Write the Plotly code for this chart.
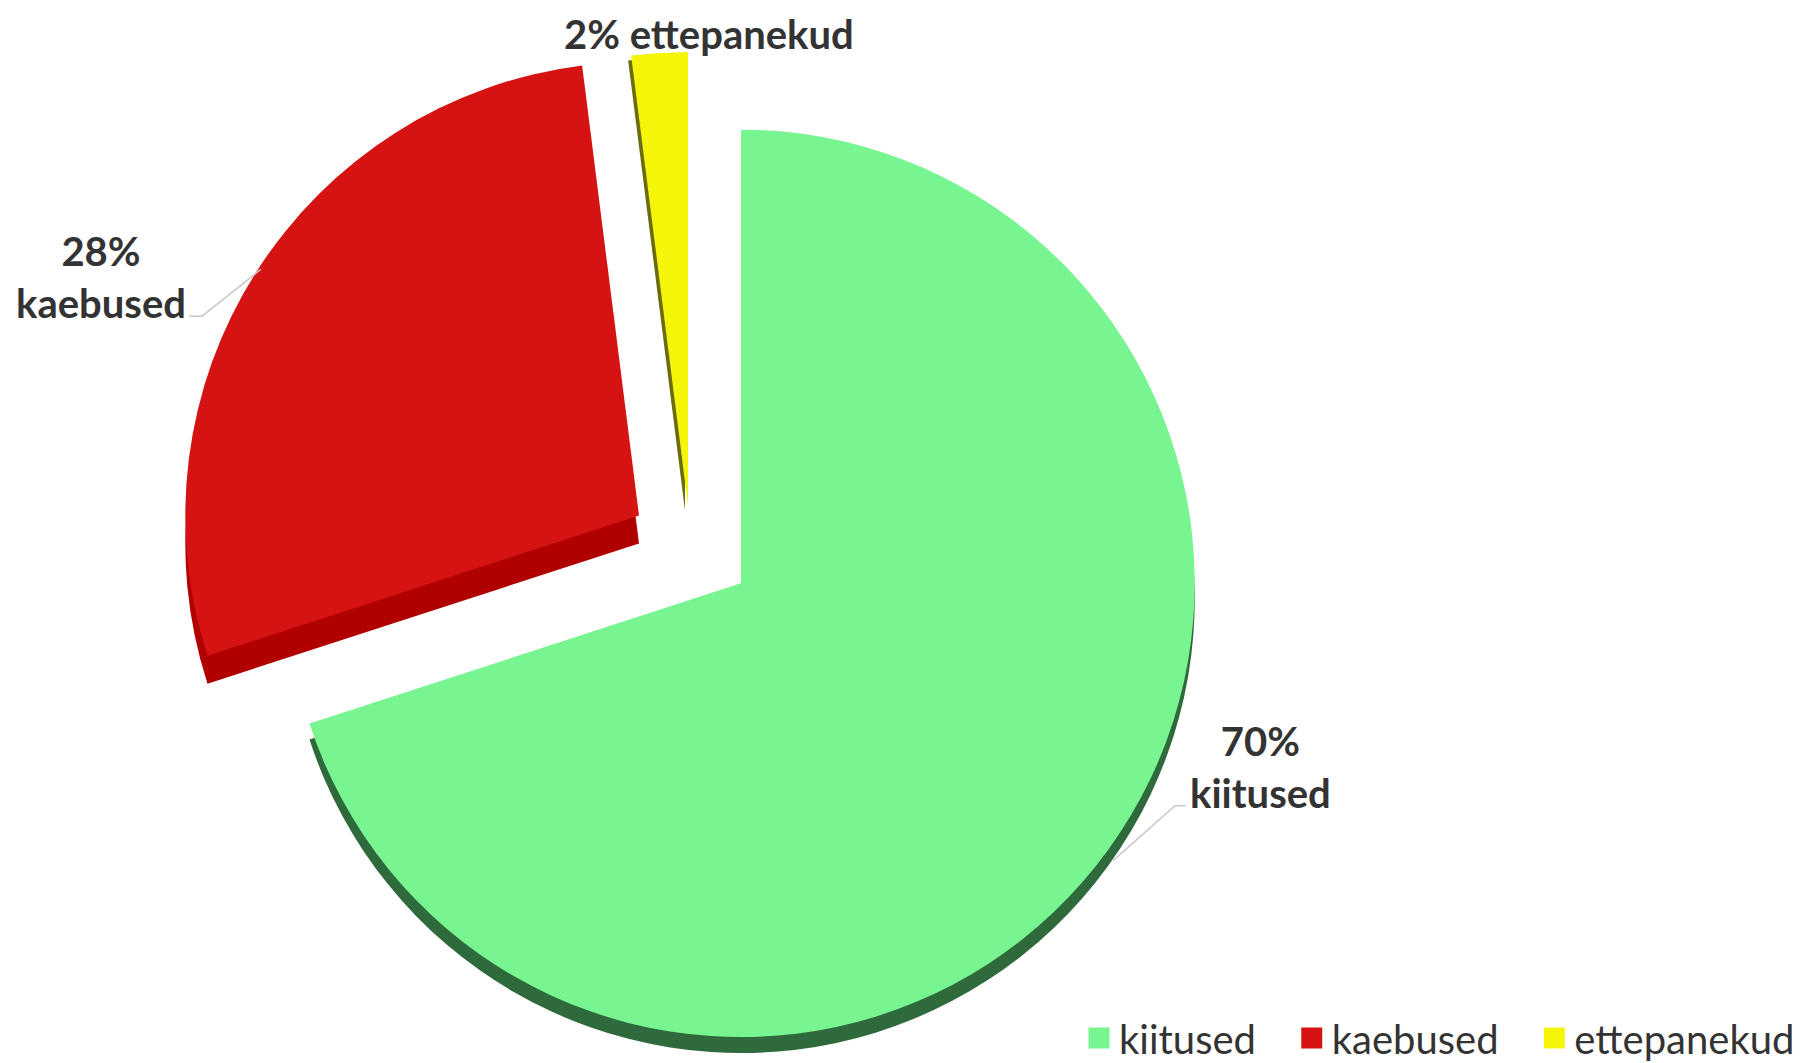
import plotly.graph_objects as go

# ---- data ----
labels = ["kiitused", "kaebused", "ettepanekud"]
values = [70, 28, 2]
colors = ["#78F490", "#D51313", "#F5F50A"]
rim_colors = ["#2E6A3B", "#B00000", "#6B6B10"]

W, H = 1816, 1063
OFF = 8  # page body margin
R = 455
FONT = "Lato, 'Open Sans', sans-serif"
TXT = "#333333"

# per-slice placement (exploded 3D-like look): centre of each slice's pie, rim offset
centres = [(741, 585), (639, 517), (688, 507)]
rim_offsets = [(0, 16), (0, 28), (-3, 5)]

CLEAR = "rgba(0,0,0,0)"
PAD = "\u00a0" * 3


def fx(px):
    return (px - OFF) / W


def fy(py):
    return 1 - (py - OFF) / H


def dom(cx, cy, r):
    return dict(x=[fx(cx - r), fx(cx + r)], y=[fy(cy + r), fy(cy - r)])


def only(i, col):
    return [col if j == i else CLEAR for j in range(len(labels))]


fig = go.Figure()

common = dict(labels=labels, values=values, sort=False, direction="clockwise",
              rotation=0, textinfo="none", showlegend=False, hoverinfo="label+percent")

# rims (drawn first, beneath)
for i in range(len(labels)):
    cx, cy = centres[i]
    dx, dy = rim_offsets[i]
    fig.add_trace(go.Pie(**common, domain=dom(cx + dx, cy + dy, R),
                         marker=dict(colors=only(i, rim_colors[i]), line=dict(width=0))))
# tops
for i in range(len(labels)):
    cx, cy = centres[i]
    fig.add_trace(go.Pie(**common, domain=dom(cx, cy, R),
                         marker=dict(colors=only(i, colors[i]), line=dict(width=0))))

# legend entries
for k, (lab, col) in enumerate(zip(labels, colors)):
    name = lab + (PAD if k < len(labels) - 1 else "")
    fig.add_trace(go.Scatter(x=[None], y=[None], mode="markers", name=name,
                             marker=dict(symbol="square", size=16, color=col,
                                         line=dict(color=col, width=5)),
                             showlegend=True, hoverinfo="skip"))

total = sum(values)
pcts = [round(v / total * 100) for v in values]

annotations = []
# two-line labels
for i, (x, y) in [(0, (1260, 769)), (1, (101, 278))]:
    annotations.append(dict(x=fx(x), y=fy(y), xref="paper", yref="paper",
                            text=f"<b>{pcts[i]}%<br>{labels[i]}</b>", showarrow=False,
                            xanchor="center", yanchor="middle", align="center",
                            font=dict(family=FONT, size=40, color=TXT)))
# top label
annotations.append(dict(x=fx(709), y=1, xref="paper", yref="paper",
                        text=f"<b>{pcts[2]}% {labels[2]}</b>", showarrow=False,
                        xanchor="center", yanchor="top", align="center",
                        font=dict(family=FONT, size=40, color=TXT)))


def path(pts):
    return "M " + " L ".join(f"{fx(px):.5f},{fy(py):.5f}" for px, py in pts)


shapes = [
    dict(type="path", xref="paper", yref="paper",
         path=path([(1186, 808), (1175, 808), (1113, 863)]),
         line=dict(color="#C8C8C8", width=1.5)),
    dict(type="path", xref="paper", yref="paper",
         path=path([(189, 317), (202, 317), (261, 270)]),
         line=dict(color="#C8C8C8", width=1.5)),
]

fig.update_layout(
    width=W, height=H,
    margin=dict(l=0, r=0, t=0, b=0),
    paper_bgcolor="white", plot_bgcolor="white",
    xaxis=dict(visible=False), yaxis=dict(visible=False),
    annotations=annotations, shapes=shapes,
    legend=dict(orientation="h", xanchor="right", x=fx(1800), yanchor="middle", y=fy(1041),
                font=dict(family=FONT, size=40, color=TXT), itemsizing="trace",
                bgcolor="rgba(0,0,0,0)"),
    font=dict(family=FONT),
)

fig.write_html("out.html")
